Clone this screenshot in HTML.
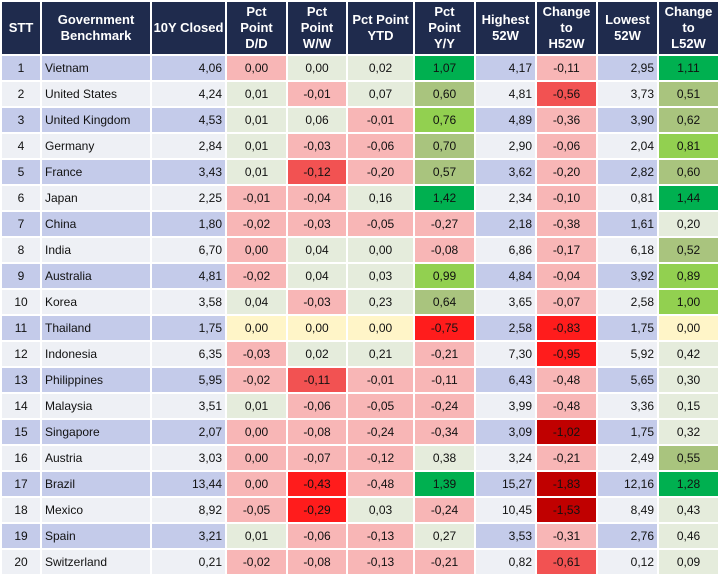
<!DOCTYPE html>
<html><head><meta charset="utf-8"><style>
html,body{margin:0;padding:0;background:#fff;width:720px;height:576px;overflow:hidden}
table{border-collapse:separate;border-spacing:2px;table-layout:fixed;width:720px;margin:0;font-family:"Liberation Sans",Arial,sans-serif;font-size:12px;color:#111}
td,th{padding:0;overflow:hidden;white-space:nowrap}
th{background:#1f2b4d;color:#fff;font-weight:bold;height:52px;font-size:13px;line-height:16px;text-align:center}
td{height:24px;text-align:center}
td.n{text-align:left;padding-left:3px}
td.r{text-align:right;padding-right:3px}
tr.o td{background:#c4cbea}
tr.e td{background:#eef0f5}
tr td.p{background:#f8b6b6}
tr td.g{background:#e5ecdc}
tr td.y{background:#fff5c8}
tr td.R{background:#ff1c1c}
tr td.r2{background:#f25252}
tr td.D{background:#c00000}
tr td.G{background:#00b050}
tr td.L{background:#92d050}
tr td.O{background:#a9c47e}
</style></head><body>
<table>
<colgroup><col style="width:38px"><col style="width:108px"><col style="width:73px"><col style="width:59px"><col style="width:58px"><col style="width:65px"><col style="width:59px"><col style="width:59px"><col style="width:59px"><col style="width:59px"><col style="width:59px"></colgroup>
<tr><th>STT</th><th>Government<br>Benchmark</th><th>10Y Closed</th><th>Pct<br>Point<br>D/D</th><th>Pct<br>Point<br>W/W</th><th>Pct Point<br>YTD</th><th>Pct<br>Point<br>Y/Y</th><th>Highest<br>52W</th><th>Change<br>to<br>H52W</th><th>Lowest<br>52W</th><th>Change<br>to<br>L52W</th></tr>
<tr class="o"><td>1</td><td class="n">Vietnam</td><td class="r">4,06</td><td class="p">0,00</td><td class="g">0,00</td><td class="g">0,02</td><td class="G">1,07</td><td class="r">4,17</td><td class="p">-0,11</td><td class="r">2,95</td><td class="G">1,11</td></tr>
<tr class="e"><td>2</td><td class="n">United States</td><td class="r">4,24</td><td class="g">0,01</td><td class="p">-0,01</td><td class="g">0,07</td><td class="O">0,60</td><td class="r">4,81</td><td class="r2">-0,56</td><td class="r">3,73</td><td class="O">0,51</td></tr>
<tr class="o"><td>3</td><td class="n">United Kingdom</td><td class="r">4,53</td><td class="g">0,01</td><td class="g">0,06</td><td class="p">-0,01</td><td class="L">0,76</td><td class="r">4,89</td><td class="p">-0,36</td><td class="r">3,90</td><td class="O">0,62</td></tr>
<tr class="e"><td>4</td><td class="n">Germany</td><td class="r">2,84</td><td class="g">0,01</td><td class="p">-0,03</td><td class="p">-0,06</td><td class="O">0,70</td><td class="r">2,90</td><td class="p">-0,06</td><td class="r">2,04</td><td class="L">0,81</td></tr>
<tr class="o"><td>5</td><td class="n">France</td><td class="r">3,43</td><td class="g">0,01</td><td class="r2">-0,12</td><td class="p">-0,20</td><td class="O">0,57</td><td class="r">3,62</td><td class="p">-0,20</td><td class="r">2,82</td><td class="O">0,60</td></tr>
<tr class="e"><td>6</td><td class="n">Japan</td><td class="r">2,25</td><td class="p">-0,01</td><td class="p">-0,04</td><td class="g">0,16</td><td class="G">1,42</td><td class="r">2,34</td><td class="p">-0,10</td><td class="r">0,81</td><td class="G">1,44</td></tr>
<tr class="o"><td>7</td><td class="n">China</td><td class="r">1,80</td><td class="p">-0,02</td><td class="p">-0,03</td><td class="p">-0,05</td><td class="p">-0,27</td><td class="r">2,18</td><td class="p">-0,38</td><td class="r">1,61</td><td class="g">0,20</td></tr>
<tr class="e"><td>8</td><td class="n">India</td><td class="r">6,70</td><td class="p">0,00</td><td class="g">0,04</td><td class="g">0,00</td><td class="p">-0,08</td><td class="r">6,86</td><td class="p">-0,17</td><td class="r">6,18</td><td class="O">0,52</td></tr>
<tr class="o"><td>9</td><td class="n">Australia</td><td class="r">4,81</td><td class="p">-0,02</td><td class="g">0,04</td><td class="g">0,03</td><td class="L">0,99</td><td class="r">4,84</td><td class="p">-0,04</td><td class="r">3,92</td><td class="L">0,89</td></tr>
<tr class="e"><td>10</td><td class="n">Korea</td><td class="r">3,58</td><td class="g">0,04</td><td class="p">-0,03</td><td class="g">0,23</td><td class="O">0,64</td><td class="r">3,65</td><td class="p">-0,07</td><td class="r">2,58</td><td class="L">1,00</td></tr>
<tr class="o"><td>11</td><td class="n">Thailand</td><td class="r">1,75</td><td class="y">0,00</td><td class="y">0,00</td><td class="y">0,00</td><td class="R">-0,75</td><td class="r">2,58</td><td class="R">-0,83</td><td class="r">1,75</td><td class="y">0,00</td></tr>
<tr class="e"><td>12</td><td class="n">Indonesia</td><td class="r">6,35</td><td class="p">-0,03</td><td class="g">0,02</td><td class="g">0,21</td><td class="p">-0,21</td><td class="r">7,30</td><td class="R">-0,95</td><td class="r">5,92</td><td class="g">0,42</td></tr>
<tr class="o"><td>13</td><td class="n">Philippines</td><td class="r">5,95</td><td class="p">-0,02</td><td class="r2">-0,11</td><td class="p">-0,01</td><td class="p">-0,11</td><td class="r">6,43</td><td class="p">-0,48</td><td class="r">5,65</td><td class="g">0,30</td></tr>
<tr class="e"><td>14</td><td class="n">Malaysia</td><td class="r">3,51</td><td class="g">0,01</td><td class="p">-0,06</td><td class="p">-0,05</td><td class="p">-0,24</td><td class="r">3,99</td><td class="p">-0,48</td><td class="r">3,36</td><td class="g">0,15</td></tr>
<tr class="o"><td>15</td><td class="n">Singapore</td><td class="r">2,07</td><td class="p">0,00</td><td class="p">-0,08</td><td class="p">-0,24</td><td class="p">-0,34</td><td class="r">3,09</td><td class="D">-1,02</td><td class="r">1,75</td><td class="g">0,32</td></tr>
<tr class="e"><td>16</td><td class="n">Austria</td><td class="r">3,03</td><td class="p">0,00</td><td class="p">-0,07</td><td class="p">-0,12</td><td class="g">0,38</td><td class="r">3,24</td><td class="p">-0,21</td><td class="r">2,49</td><td class="O">0,55</td></tr>
<tr class="o"><td>17</td><td class="n">Brazil</td><td class="r">13,44</td><td class="p">0,00</td><td class="R">-0,43</td><td class="p">-0,48</td><td class="G">1,39</td><td class="r">15,27</td><td class="D">-1,83</td><td class="r">12,16</td><td class="G">1,28</td></tr>
<tr class="e"><td>18</td><td class="n">Mexico</td><td class="r">8,92</td><td class="p">-0,05</td><td class="R">-0,29</td><td class="g">0,03</td><td class="p">-0,24</td><td class="r">10,45</td><td class="D">-1,53</td><td class="r">8,49</td><td class="g">0,43</td></tr>
<tr class="o"><td>19</td><td class="n">Spain</td><td class="r">3,21</td><td class="g">0,01</td><td class="p">-0,06</td><td class="p">-0,13</td><td class="g">0,27</td><td class="r">3,53</td><td class="p">-0,31</td><td class="r">2,76</td><td class="g">0,46</td></tr>
<tr class="e"><td>20</td><td class="n">Switzerland</td><td class="r">0,21</td><td class="p">-0,02</td><td class="p">-0,08</td><td class="p">-0,13</td><td class="p">-0,21</td><td class="r">0,82</td><td class="r2">-0,61</td><td class="r">0,12</td><td class="g">0,09</td></tr>
</table>
</body></html>
